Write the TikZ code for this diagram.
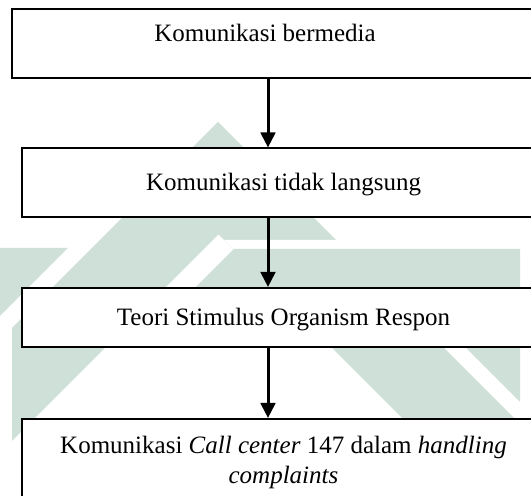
\documentclass[tikz,border=0pt]{standalone}
\usepackage{fontspec}
\setmainfont{Liberation Serif}
\usepackage{xcolor}
\definecolor{wmGreen}{RGB}{206,224,215}
\definecolor{flowLine}{HTML}{000000}
\usetikzlibrary{arrows.meta}

\begin{document}
\begin{tikzpicture}[x=0.5pt, y=-0.5pt,
  flowbox/.style={rectangle, draw=flowLine, line width=1pt, fill=white, inner sep=0pt, minimum width=261.5pt},
  flowtext/.style={inner sep=0pt, font=\fontsize{12.5}{15}\selectfont, align=center},
  flowarrow/.style={draw=flowLine, line width=1.5pt, -{Triangle[length=7.5pt, width=7.3pt]}}]
  \useasboundingbox (0,0) rectangle (531,496);
  \clip (0,0) rectangle (531,496);
  \fill[wmGreen, even odd rule] (218,122) -- (618,522) -- (-182,522) -- cycle
    (218.5,234.5) -- (518.5,534.5) -- (-81.5,534.5) -- cycle;
  \fill[white] (224,240) -- (345,240) -- (345,249) -- (233,249) -- cycle;
  \fill[white] (-5,322) rectangle (12,500);
  \fill[wmGreen] (234,249) -- (520,249) -- (520,402) -- (440,322) -- (161,322) -- cycle;
  \fill[wmGreen] (0,248) -- (68,248) -- (0,316) -- cycle;
  \node[flowbox, minimum width=266.5pt, minimum height=34.5pt] (bermedia) at (278.5,43.5) {};
  \node[flowbox, minimum height=34.5pt] (tidak) at (283.5,183) {};
  \node[flowbox, minimum height=29.5pt] (sor) at (283.5,317.5) {};
  \node[flowbox, minimum height=69.5pt] (callcenter) at (283.5,488.5) {};
  \node[flowtext, anchor=base] (bermediaText) at (265,42) {Komunikasi bermedia};
  \node[flowtext, anchor=base] (tidakText) at (283.5,191) {Komunikasi tidak langsung};
  \node[flowtext, anchor=base] (sorText) at (283.5,326) {Teori Stimulus Organism Respon};
  \node[flowtext, anchor=north] (callcenterText) at (283.5,436)
    {Komunikasi \textit{Call center} 147 dalam \textit{handling}\\ \textit{complaints}};
  \coordinate (axis) at (268,0);
  \draw[flowarrow] (bermedia.south -| axis) -- (tidak.north -| axis);
  \draw[flowarrow] (tidak.south -| axis) -- (sor.north -| axis);
  \draw[flowarrow] (sor.south -| axis) -- (callcenter.north -| axis);
\end{tikzpicture}
\end{document}
